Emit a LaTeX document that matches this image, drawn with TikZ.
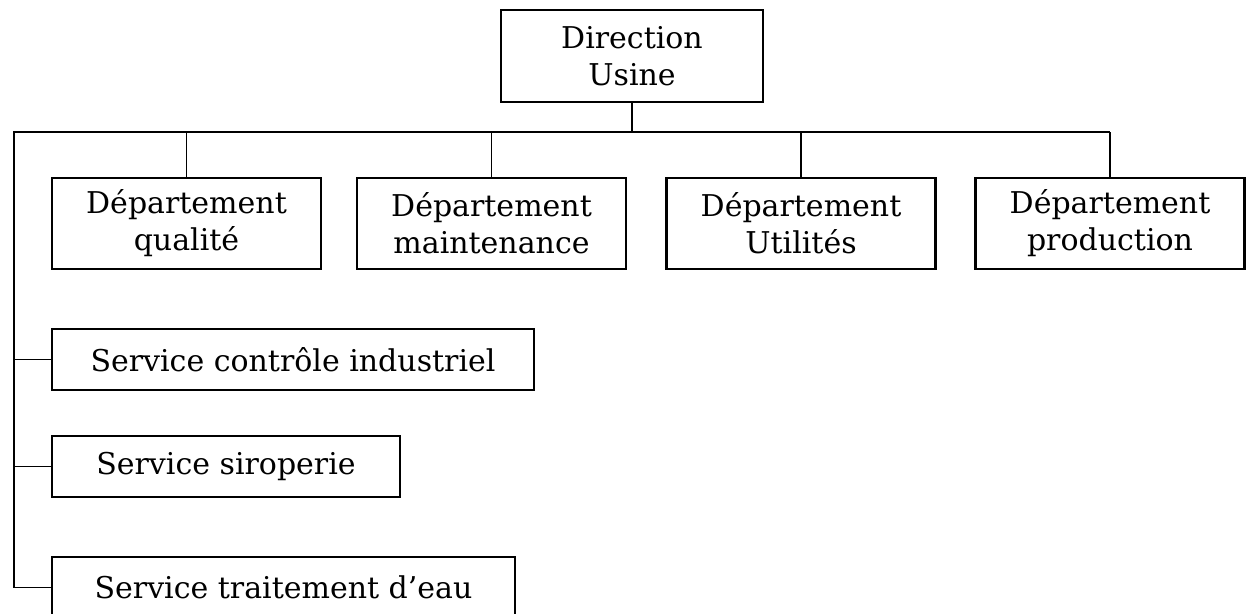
\documentclass[tikz,border=0pt]{standalone}
\usepackage{fontspec}
\setmainfont{DejaVu Serif}
\begin{document}
\begin{tikzpicture}[x=1pt,y=-1pt,
  box/.style={draw=black, line width=2.3pt, fill=white, inner sep=0pt,
    align=center, font=\fontsize{30}{37}\selectfont},
  dept/.style={box, minimum width=269pt, minimum height=91pt},
  serv/.style={box, minimum height=61pt},
  link/.style={draw=black, line width=1.7pt}]
  \useasboundingbox (0,0) rectangle (1247,613);
  \clip (0,0) rectangle (1247,613);
  \fill[white] (0,0) rectangle (1247,613);

  % top level
  \node[box, minimum width=262pt, minimum height=92pt] (dir) at (632,56) {Direction\\Usine};

  % departments
  \node[dept] (d1) at (186.5,223.5) {Département\\qualité};
  \node[dept] (d2) at (491.5,223.5) {Département\\maintenance};
  \node[dept] (d3) at (801,223.5) {Département\\Utilités};
  \node[dept] (d4) at (1110,223.5) {Département\\production};

  % services
  \node[serv, minimum width=482pt] (s1) at (293,359.5) {Service contrôle industriel};
  \node[serv, minimum width=348pt] (s2) at (226,466.5) {Service siroperie};
  \node[serv, minimum width=463pt] (s3) at (283.5,587.5) {Service traitement d’eau};

  % bus
  \coordinate (busL) at (14,132);
  \coordinate (busR) at (d4.north |- busL);
  \draw[link] (dir.south) -- (dir.south |- busL);
  \draw[link] (s3.west) -| (busL) -- (busR);
  \foreach \d in {d1,d2,d3,d4}
    \draw[link] (\d.north) -- (\d.north |- busL);
  \foreach \s in {s1,s2}
    \draw[link] (\s.west) -- (\s.west -| busL);
\end{tikzpicture}
\end{document}
